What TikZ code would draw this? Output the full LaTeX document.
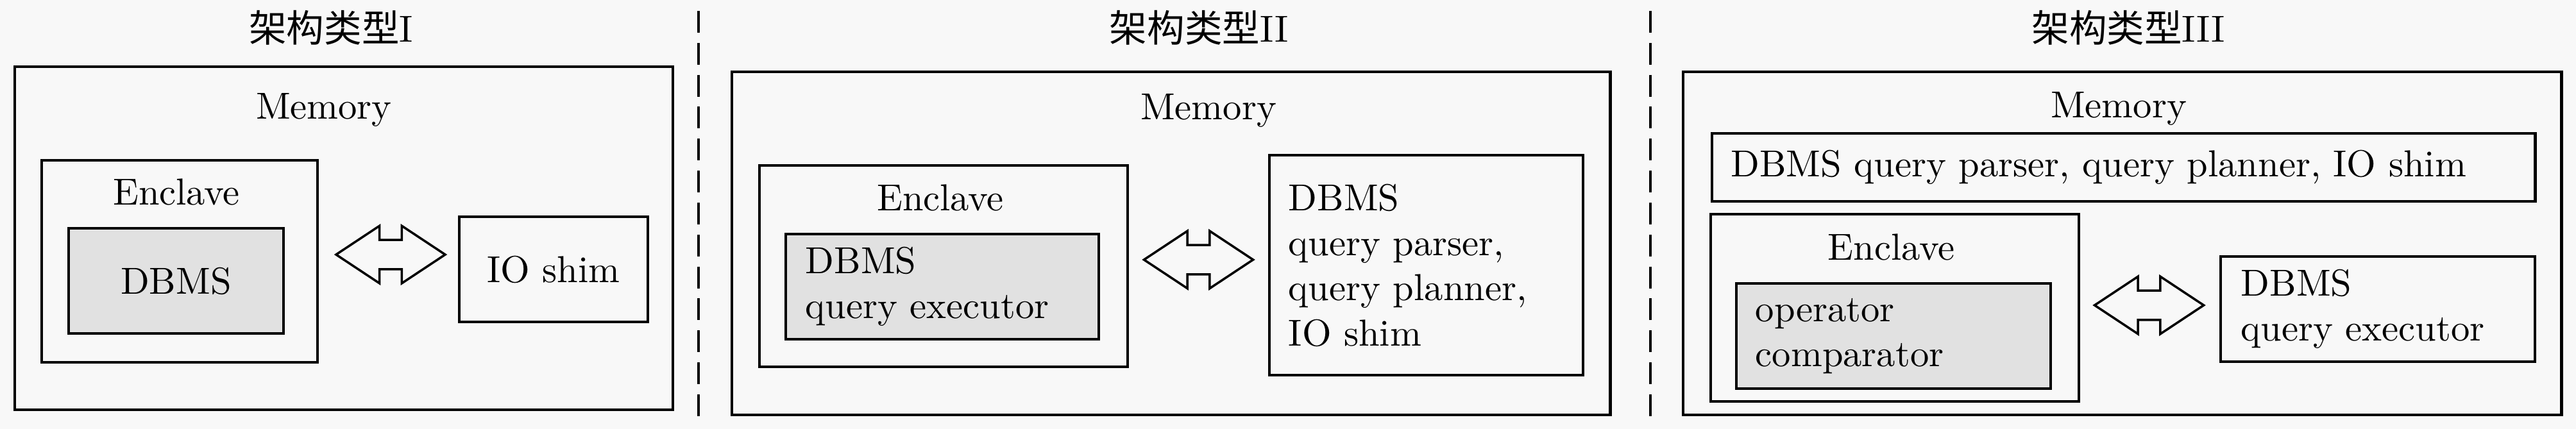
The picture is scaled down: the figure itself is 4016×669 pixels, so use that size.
\documentclass[tikz,border=0pt]{standalone}
\usepackage{fontspec}
\newfontfamily\cjk{Noto Sans CJK SC}
\usetikzlibrary{shapes.arrows}
\definecolor{bggray}{RGB}{248,248,248}
\definecolor{boxgray}{RGB}{225,225,225}

\begin{document}
\begin{tikzpicture}[
x=0.006cm,y=-0.006cm,line width=0.7pt,
box/.style={draw,fill=bggray,inner sep=0pt},
gray box/.style={draw,fill=boxgray,inner sep=0pt},
text box/.style={align=left,inner ysep=0pt},
dbl arrow/.style={double arrow,draw,fill=bggray,line width=0.6pt,inner xsep=0pt,inner ysep=0.126cm,
  minimum height=1.02cm,double arrow head extend=0.132cm,double arrow tip angle=67},
type title/.style={anchor=base},
sep line/.style={line width=0.65pt,dash pattern=on 5.8pt off 2.7pt}]
\path[use as bounding box,fill=bggray] (0,0) rectangle (4016,669);
%titles
  \node[type title] (t1) at (516,66) {{\cjk 架构类型}I};
  \node[type title] (t2) at (1869,66) {{\cjk 架构类型}II};
  \node[type title] (t3) at (3318,66) {{\cjk 架构类型}III};
  \draw[sep line] (1089,17) -- (1089,653);
  \draw[sep line] (2573,17) -- (2573,653);
%I
  \node[box,minimum width=6.156cm,minimum height=3.21cm] (mem1) at (536,371.5) {};
  \node[anchor=base] (mem1 text) at (505,186) {Memory};
  \node[box,minimum width=2.58cm,minimum height=1.89cm] (enc1) at (280,407.5) {};
  \node[anchor=base] (enc1 text) at (275,320) {Enclave};
  \node[gray box,minimum width=2.01cm,minimum height=0.984cm] (db1) at (274.5,438) {DBMS};
  \node[box,minimum width=1.764cm,minimum height=0.984cm] (io1) at (863,420) {IO shim};
  \node[dbl arrow] (arr1) at (609,397) {};
%II
  \node[box,minimum width=8.214cm,minimum height=3.21cm] (mem2) at (1825.5,379.5) {};
  \node[anchor=base] (mem2 text) at (1884,186.5) {Memory};
  \node[box,minimum width=3.444cm,minimum height=1.884cm] (enc2) at (1471,415) {};
  \node[anchor=base] (enc2 text) at (1466,328.5) {Enclave};
  \node[gray box,text box,text width=2.556cm,inner xsep=0.186cm,minimum height=0.984cm] (db2)
    at (1469,447) {DBMS\\query executor};
  \node[box,text box,text width=2.574cm,inner xsep=0.18cm,minimum height=2.058cm] (rb2)
    at (2223.5,413.5) {DBMS\\query parser,\\query planner,\\IO shim};
  \node[dbl arrow] (arr2) at (1868.5,405) {};
%III
  \node[box,minimum width=8.214cm,minimum height=3.21cm] (mem3) at (3308.5,379.5) {};
  \node[anchor=base] (mem3 text) at (3303,183.5) {Memory};
  \node[box,text box,text width=7.338cm,inner xsep=0.18cm,minimum height=0.636cm] (tb3)
    at (3310.5,261) {DBMS query parser, query planner, IO shim};
  \node[box,minimum width=3.444cm,minimum height=1.752cm] (enc3) at (2954,480) {};
  \node[anchor=base] (enc3 text) at (2948.5,405) {Enclave};
  \node[gray box,text box,text width=2.58cm,inner xsep=0.18cm,minimum height=0.984cm] (db3)
    at (2952,524) {operator\\comparator};
  \node[box,text box,text width=2.556cm,inner xsep=0.192cm,minimum height=0.984cm] (rb3)
    at (3707,482) {DBMS\\query executor};
  \node[dbl arrow] (arr3) at (3350.5,476) {};
\end{tikzpicture}
\end{document}
